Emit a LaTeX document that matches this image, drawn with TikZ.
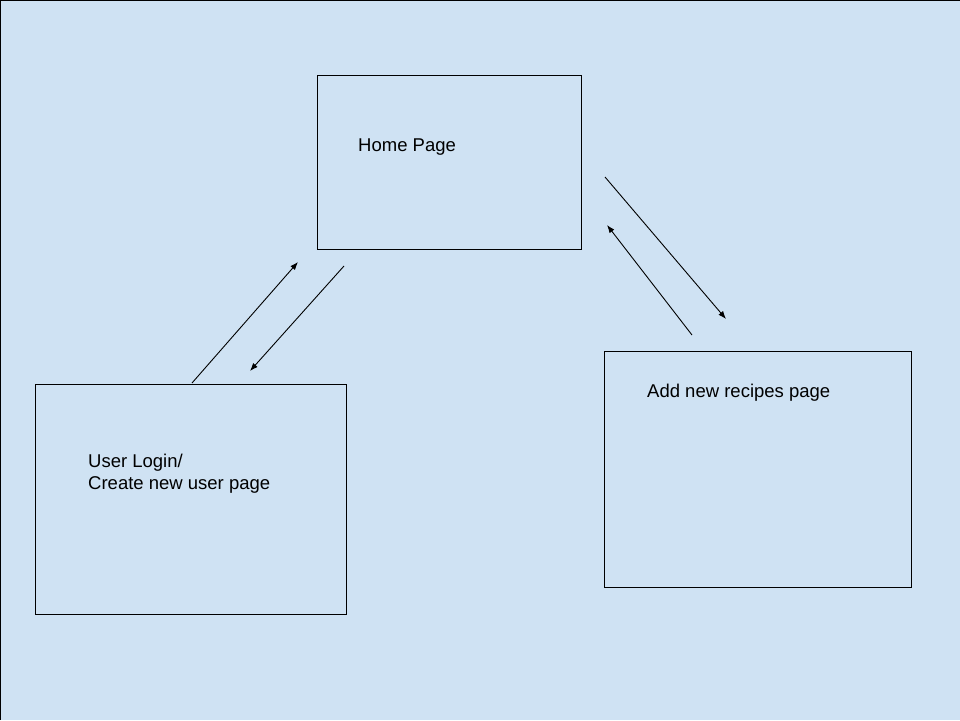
\documentclass[tikz,border=0pt]{standalone}
\usepackage{fontspec}
\setmainfont{Liberation Sans}
\usetikzlibrary{arrows.meta}
\definecolor{sky}{HTML}{CFE2F3}
\begin{document}
\begin{tikzpicture}[x=1pt,y=-1pt,
  pagebox/.style={draw=black,line width=1pt},
  label/.style={anchor=base west,inner sep=0pt,font=\fontsize{18.5pt}{22pt}\selectfont,align=left},
  flow/.style={draw=black,line width=0.9pt,-{Latex[length=8pt,width=6pt]}}]
  % canvas
  \fill[sky] (0,0) rectangle (960,720);
  \useasboundingbox (0,0) rectangle (960,720);
  \draw[line width=1.2pt] (0.6,720) -- (0.6,0.6) -- (960,0.6);

  % pages
  \node[pagebox,minimum width=264pt,minimum height=174pt,anchor=north west,inner sep=0pt] (home) at (317,75) {};
  \node[pagebox,minimum width=311pt,minimum height=230pt,anchor=north west,inner sep=0pt] (login) at (35,384) {};
  \node[pagebox,minimum width=307pt,minimum height=236pt,anchor=north west,inner sep=0pt] (recipes) at (604,351) {};

  % titles (a two-line node sits on the baseline of its last line)
  \node[label] (homeT) at (358,151) {Home Page};
  \node[label] (loginT) at (88,489) {User Login/\\Create new user page};
  \node[label] (recipesT) at (647,397) {Add new recipes page};

  % arrow end points
  \coordinate (a1s) at (192,383);
  \coordinate (a1e) at (298,262);
  \coordinate (a2s) at (344,266);
  \coordinate (a2e) at (250,371);
  \coordinate (a3s) at (605,177);
  \coordinate (a3e) at (726,319);
  \coordinate (a4s) at (692,335);
  \coordinate (a4e) at (607,225);

  % navigation
  \draw[flow] (a1s) -- (a1e);
  \draw[flow] (a2s) -- (a2e);
  \draw[flow] (a3s) -- (a3e);
  \draw[flow] (a4s) -- (a4e);
\end{tikzpicture}
\end{document}
